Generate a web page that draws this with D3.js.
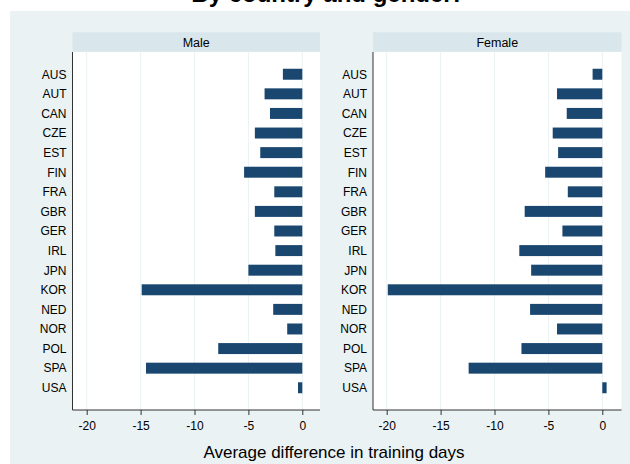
<!DOCTYPE html>
<html>
<head>
<meta charset="utf-8">
<script src="https://cdn.jsdelivr.net/npm/d3@7"></script>
<style>
    body { margin: 0; background: #ffffff; }
    svg { display: block; font-family: "Liberation Sans", Arial, sans-serif; }
</style>
</head>
<body>
<script>
let countries = ["AUS", "AUT", "CAN", "CZE", "EST", "FIN", "FRA", "GBR", "GER",
    "IRL", "JPN", "KOR", "NED", "NOR", "POL", "SPA", "USA"];
let maleValues = [-1.8, -3.5, -3.0, -4.4, -3.9, -5.4, -2.6, -4.4, -2.6,
    -2.5, -5.0, -14.9, -2.7, -1.4, -7.8, -14.5, -0.4];
let femaleValues = [-0.9, -4.2, -3.3, -4.6, -4.1, -5.3, -3.2, -7.2, -3.7,
    -7.7, -6.6, -19.9, -6.7, -4.2, -7.5, -12.4, 0.4];
let xTicks = [-20, -15, -10, -5, 0];
let panelNames = ["Male", "Female"];

let svgWidth = 630,
    svgHeight = 464,
    plotTop = 52,
    plotBottom = 410,
    barColor = "#1a476f",
    bgColor = "#eaf2f3",
    stripColor = "#d9e6eb",
    axisColor = "#333333";

let panels = [
    {name: panelNames[0], values: maleValues, left: 72.5, right: 320, x0: 86.7, x1: 302.3},
    {name: panelNames[1], values: femaleValues, left: 373, right: 621.5, x0: 386.7, x1: 602.3}
];

let svg;

function init() {
    svg = d3.select("body").append("svg")
        .attr("width", svgWidth)
        .attr("height", svgHeight);

    svg.append("rect")
        .attr("x", 10).attr("y", 11)
        .attr("width", svgWidth - 10).attr("height", svgHeight - 11)
        .attr("fill", bgColor);

    // title is cut at the top edge, as in the source image
    svg.append("text")
        .attr("x", 326).attr("y", 2)
        .attr("text-anchor", "middle")
        .attr("font-size", 24)
        .attr("font-weight", "bold")
        .attr("fill", "#000")
        .text("By country and gender:");

    let yScale = d3.scaleBand()
        .domain(countries)
        .range([plotTop, plotBottom])
        .paddingInner(0.44)
        .paddingOuter(0.855);

    panels.forEach(p => drawPanel(p, yScale));

    svg.append("text")
        .attr("x", 334).attr("y", 458)
        .attr("text-anchor", "middle")
        .attr("font-size", 17)
        .attr("fill", "#000")
        .text("Average difference in training days");
}

function drawPanel(p, yScale) {
    let xScale = d3.scaleLinear().domain([-20, 0]).range([p.x0, p.x1]);

    // strip header
    svg.append("rect")
        .attr("x", p.left).attr("y", 32.3)
        .attr("width", p.right - p.left).attr("height", 19.4)
        .attr("fill", stripColor);
    svg.append("text")
        .attr("x", (p.left + p.right) / 2).attr("y", 46.5)
        .attr("text-anchor", "middle")
        .attr("font-size", 12.5)
        .attr("fill", "#000")
        .text(p.name);

    // plot region
    svg.append("rect")
        .attr("x", p.left).attr("y", plotTop)
        .attr("width", p.right - p.left).attr("height", plotBottom - plotTop)
        .attr("fill", "#ffffff");

    // gridlines
    svg.append("g")
        .selectAll("line")
        .data(xTicks)
        .join("line")
        .attr("x1", d => xScale(d)).attr("x2", d => xScale(d))
        .attr("y1", plotTop).attr("y2", plotBottom)
        .attr("stroke", bgColor)
        .attr("stroke-width", 1);

    // bars
    svg.append("g")
        .selectAll("rect")
        .data(p.values)
        .join("rect")
        .attr("x", d => xScale(Math.min(0, d)))
        .attr("y", (d, i) => yScale(countries[i]))
        .attr("width", d => Math.abs(xScale(d) - xScale(0)))
        .attr("height", yScale.bandwidth())
        .attr("fill", barColor);

    // category labels
    svg.append("g")
        .selectAll("text")
        .data(countries)
        .join("text")
        .attr("x", p.left - 6)
        .attr("y", d => yScale(d) + yScale.bandwidth() / 2)
        .attr("dy", "0.36em")
        .attr("text-anchor", "end")
        .attr("font-size", 12)
        .attr("fill", "#000")
        .text(d => d);

    // axes lines
    svg.append("line")
        .attr("x1", p.left).attr("x2", p.left)
        .attr("y1", plotTop).attr("y2", plotBottom)
        .attr("stroke", axisColor).attr("stroke-width", 1);

    let xAxis = d3.axisBottom(xScale).tickValues(xTicks).tickSize(5).tickPadding(6).tickFormat(d3.format("d"));
    let g = svg.append("g")
        .attr("transform", "translate(0," + plotBottom + ")")
        .call(xAxis);
    g.select(".domain").remove();
    g.selectAll(".tick line").attr("stroke", axisColor);
    g.selectAll(".tick text")
        .attr("font-size", 12)
        .attr("font-family", "Liberation Sans, Arial, sans-serif")
        .attr("fill", "#000")
        .text(d => d < 0 ? "-" + Math.abs(d) : d);

    svg.append("line")
        .attr("x1", p.left).attr("x2", p.right)
        .attr("y1", plotBottom).attr("y2", plotBottom)
        .attr("stroke", axisColor).attr("stroke-width", 1);
}

init();
</script>
</body>
</html>
